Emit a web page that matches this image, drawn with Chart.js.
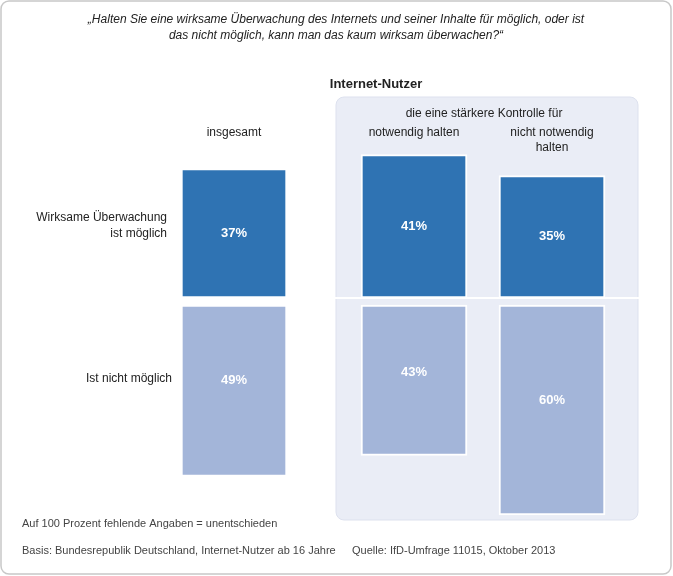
<!DOCTYPE html>
<html>
<head>
<meta charset="utf-8">
<script src="https://cdn.jsdelivr.net/npm/chart.js@4"></script>
<style>
  body { margin: 0; background: #fff; }
  #wrap { width: 673px; height: 576px; }
</style>
</head>
<body>
<div id="wrap"><canvas id="chart" width="673" height="576"></canvas></div>
<script>
// Survey values (percent)
const columns = [
  { x: 234, moeglich: 37, nichtMoeglich: 49 },
  { x: 414, moeglich: 41, nichtMoeglich: 43 },
  { x: 552, moeglich: 35, nichtMoeglich: 60 }
];
const gap = 2; // small offset below the divider line

const font = (size, bold, italic) =>
  `${italic ? "italic " : ""}${bold ? "bold " : ""}${size}px "Liberation Sans", Arial, sans-serif`;

function roundRect(ctx, x, y, w, h, r) {
  ctx.beginPath();
  ctx.moveTo(x + r, y);
  ctx.arcTo(x + w, y, x + w, y + h, r);
  ctx.arcTo(x + w, y + h, x, y + h, r);
  ctx.arcTo(x, y + h, x, y, r);
  ctx.arcTo(x, y, x + w, y, r);
  ctx.closePath();
}

const decor = {
  id: "decor",
  beforeDraw(chart) {
    const ctx = chart.ctx;
    ctx.save();
    // outer frame
    roundRect(ctx, 1, 1, 670, 573, 8);
    ctx.strokeStyle = "#c8c8c8";
    ctx.lineWidth = 1.5;
    ctx.stroke();
    // panel behind the two right columns
    roundRect(ctx, 336, 97, 302, 423, 8);
    ctx.fillStyle = "#eaedf6";
    ctx.fill();
    ctx.strokeStyle = "#dde1ee";
    ctx.lineWidth = 1;
    ctx.stroke();
    // divider line
    ctx.strokeStyle = "#ffffff";
    ctx.lineWidth = 2;
    ctx.beginPath();
    ctx.moveTo(22, 298);
    ctx.lineTo(650, 298);
    ctx.stroke();
    ctx.restore();
  },
  afterDraw(chart) {
    const ctx = chart.ctx;
    ctx.save();
    ctx.fillStyle = "#222";
    ctx.textAlign = "center";
    ctx.textBaseline = "middle";
    ctx.font = font(12, false, true);
    ctx.fillText("\u201eHalten Sie eine wirksame \u00dcberwachung des Internets und seiner Inhalte f\u00fcr m\u00f6glich, oder ist", 336, 20);
    ctx.fillText("das nicht m\u00f6glich, kann man das kaum wirksam \u00fcberwachen?\u201c", 336, 36);
    ctx.font = font(13, true);
    ctx.fillText("Internet-Nutzer", 376, 84);
    ctx.font = font(12);
    ctx.fillText("die eine st\u00e4rkere Kontrolle f\u00fcr", 484, 114);
    ctx.fillText("insgesamt", 234, 133);
    ctx.fillText("notwendig halten", 414, 133);
    ctx.fillText("nicht notwendig", 552, 133);
    ctx.fillText("halten", 552, 148);
    ctx.textAlign = "right";
    ctx.fillText("Wirksame \u00dcberwachung", 167, 218);
    ctx.fillText("ist m\u00f6glich", 167, 234);
    ctx.fillText("Ist nicht m\u00f6glich", 172, 379);
    ctx.textAlign = "left";
    ctx.font = font(11);
    ctx.fillStyle = "#444";
    ctx.fillText("Auf 100 Prozent fehlende Angaben = unentschieden", 22, 524);
    ctx.fillText("Basis: Bundesrepublik Deutschland, Internet-Nutzer ab 16 Jahre", 22, 551);
    ctx.fillText("Quelle: IfD-Umfrage 11015, Oktober 2013", 352, 551);

    // value labels inside bars
    ctx.textAlign = "center";
    ctx.font = font(13, true);
    ctx.fillStyle = "#ffffff";
    const lowerOffsets = [75, 67, 95];
    chart.data.datasets.forEach((ds, i) => {
      chart.getDatasetMeta(i).data.forEach((bar, j) => {
        const v = ds.values[j];
        const y = i === 0 ? (bar.y + bar.base) / 2 : Math.min(bar.y, bar.base) + lowerOffsets[j];
        ctx.fillText(v + "%", bar.x, y);
      });
    });
    ctx.restore();
  }
};

new Chart(document.getElementById("chart"), {
  type: "bar",
  data: {
    datasets: [
      {
        label: "Wirksame \u00dcberwachung ist m\u00f6glich",
        values: columns.map(c => c.moeglich),
        data: columns.map(c => ({ x: c.x, y: [0, c.moeglich] })),
        backgroundColor: "#2f73b3",
        borderColor: "#ffffff",
        borderWidth: 2,
        borderSkipped: false,
        barThickness: 106,
        grouped: false
      },
      {
        label: "Ist nicht m\u00f6glich",
        values: columns.map(c => c.nichtMoeglich),
        data: columns.map(c => ({ x: c.x, y: [-gap, -gap - c.nichtMoeglich] })),
        backgroundColor: "#a3b5d9",
        borderColor: "#ffffff",
        borderWidth: 2,
        borderSkipped: false,
        barThickness: 106,
        grouped: false
      }
    ]
  },
  options: {
    responsive: false,
    animation: false,
    layout: { padding: 0 },
    plugins: { legend: { display: false }, tooltip: { enabled: false } },
    scales: {
      x: { type: "linear", min: 0, max: 673, offset: false, display: false },
      y: { min: -278 / 3.5, max: 298 / 3.5, display: false }
    }
  },
  plugins: [decor]
});
</script>
</body>
</html>
